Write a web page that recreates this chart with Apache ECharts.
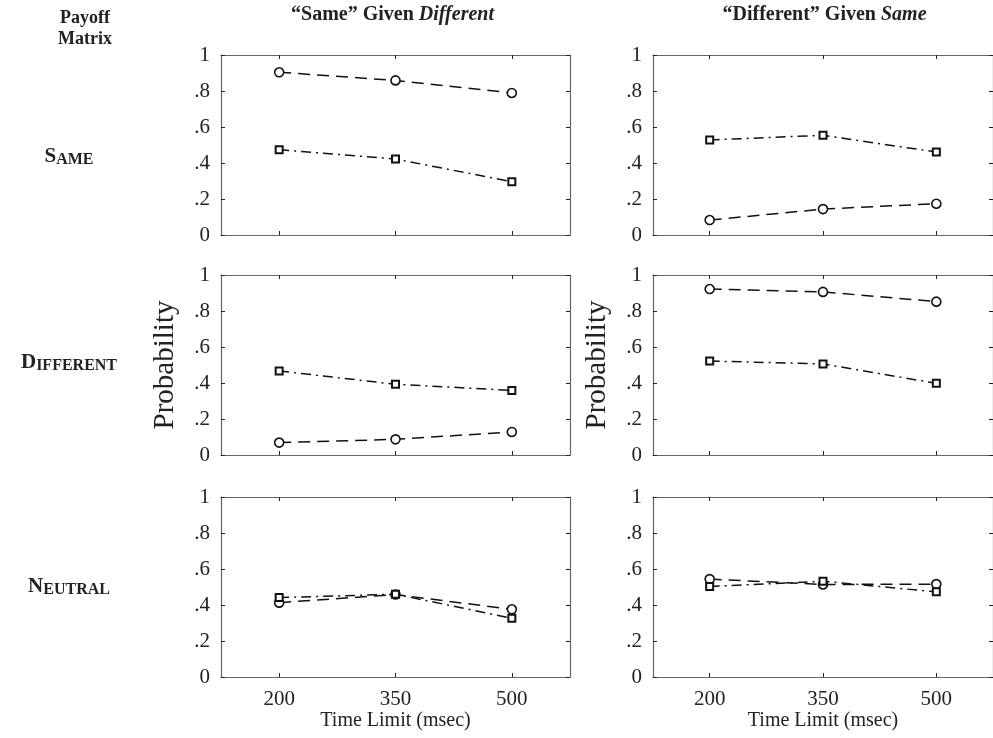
<!DOCTYPE html>
<html>
<head>
<meta charset="utf-8">
<script src="https://cdn.jsdelivr.net/npm/echarts@6/dist/echarts.min.js"></script>
<style>
html,body{margin:0;padding:0;background:#fff;}
#c{width:993px;height:738px;}
</style>
</head>
<body>
<div id="c"></div>
<script>
// ---- data ----
const timeLimits = [200, 350, 500];
const xTicks = [200, 350, 500];
const yTicks = [0, 0.2, 0.4, 0.6, 0.8, 1];
const columnTitles = ['“Same” Given ', '“Different” Given '];
const columnTitlesItalic = ['Different', 'Same'];
const rowLabels = [['S', 'AME'], ['D', 'IFFERENT'], ['N', 'EUTRAL']];

// circles (dashed) and squares (dash-dot), per panel
const sameGivenDiff_circle_SAME = [0.904, 0.859, 0.789];
const sameGivenDiff_square_SAME = [0.474, 0.422, 0.296];
const diffGivenSame_circle_SAME = [0.083, 0.144, 0.174];
const diffGivenSame_square_SAME = [0.528, 0.554, 0.461];

const sameGivenDiff_circle_DIFF = [0.069, 0.087, 0.128];
const sameGivenDiff_square_DIFF = [0.467, 0.393, 0.359];
const diffGivenSame_circle_DIFF = [0.922, 0.906, 0.852];
const diffGivenSame_square_DIFF = [0.522, 0.506, 0.398];

const sameGivenDiff_circle_NEUT = [0.413, 0.458, 0.376];
const sameGivenDiff_square_NEUT = [0.441, 0.460, 0.326];
const diffGivenSame_circle_NEUT = [0.544, 0.514, 0.516];
const diffGivenSame_square_NEUT = [0.503, 0.532, 0.473];

const panels = [
  [sameGivenDiff_circle_SAME, sameGivenDiff_square_SAME],
  [diffGivenSame_circle_SAME, diffGivenSame_square_SAME],
  [sameGivenDiff_circle_DIFF, sameGivenDiff_square_DIFF],
  [diffGivenSame_circle_DIFF, diffGivenSame_square_DIFF],
  [sameGivenDiff_circle_NEUT, sameGivenDiff_square_NEUT],
  [diffGivenSame_circle_NEUT, diffGivenSame_square_NEUT]
];

// ---- layout ----
const FONT = '"Liberation Serif","Times New Roman",serif';
const colLeft = [221, 653];
const panelW = 349;
const rowTop = [55, 275, 497];
const panelH = 180;
const axisColor = '#666';

const grids = [], xAxes = [], yAxes = [], series = [];
let gi = 0;
for (let r = 0; r < 3; r++) {
  for (let c = 0; c < 2; c++) {
    grids.push({left: colLeft[c], top: rowTop[r], width: panelW, height: panelH});
    const isBottom = r === 2;
    const xBase = {
      type: 'value', gridIndex: gi, min: 125, max: 575,
      splitLine: {show: false},
      axisLine: {show: true, onZero: false, lineStyle: {color: axisColor, width: 1.2}},
      axisTick: {show: true, inside: true, length: 4, customValues: xTicks, lineStyle: {color: '#222', width: 1}}
    };
    xAxes.push(Object.assign({}, xBase, {
      position: 'bottom',
      axisLabel: {show: isBottom, customValues: xTicks, margin: 12, fontFamily: FONT, fontSize: 21, color: '#222'},
      name: isBottom ? 'Time Limit (msec)' : '',
      nameLocation: 'middle', nameGap: 34,
      nameTextStyle: {fontFamily: FONT, fontSize: 20, color: '#222', verticalAlign: 'top'}
    }));
    xAxes.push(Object.assign({}, xBase, {position: 'top', axisLabel: {show: false}}));
    const yBase = {
      type: 'value', gridIndex: gi, min: 0, max: 1, interval: 0.2,
      splitLine: {show: false},
      axisLine: {show: true, onZero: false, lineStyle: {color: axisColor, width: 1.2}},
      axisTick: {show: true, inside: true, length: 4, lineStyle: {color: '#222', width: 1}}
    };
    yAxes.push(Object.assign({}, yBase, {
      position: 'left',
      axisLabel: {
        show: true, margin: 11, fontFamily: FONT, fontSize: 21, color: '#222',
        formatter: v => (Math.abs(v) < 1e-9 ? '0' : (Math.abs(v - 1) < 1e-9 ? '1' : ('.' + Math.round(v * 10))))
      }
    }));
    yAxes.push(Object.assign({}, yBase, {position: 'right', axisLabel: {show: false}}));
    const [circ, sq] = panels[gi];
    series.push({
      type: 'line', xAxisIndex: gi * 2, yAxisIndex: gi * 2,
      data: timeLimits.map((t, i) => [t, circ[i]]),
      symbol: 'circle', symbolSize: 9,
      itemStyle: {color: '#fff', borderColor: '#111', borderWidth: 1.6},
      lineStyle: {color: '#111', width: 1.5, type: [12, 7]},
      silent: true, animation: false, z: 3
    });
    series.push({
      type: 'line', xAxisIndex: gi * 2, yAxisIndex: gi * 2,
      data: timeLimits.map((t, i) => [t, sq[i]]),
      symbol: 'rect', symbolSize: 7,
      itemStyle: {color: '#fff', borderColor: '#111', borderWidth: 2},
      lineStyle: {color: '#111', width: 1.5, type: [10, 5, 2, 5]},
      silent: true, animation: false, z: 3
    });
    gi++;
  }
}

// ---- texts ----
const graphics = [];
for (let c = 0; c < 2; c++) {
  graphics.push({
    type: 'text', x: colLeft[c] + panelW / 2 - 3, y: 15,
    style: {
      text: '{n|' + columnTitles[c] + '}{i|' + columnTitlesItalic[c] + '}',
      align: 'center', verticalAlign: 'middle',
      rich: {
        n: {fontFamily: FONT, fontSize: 20, fontWeight: 'bold', fill: '#222'},
        i: {fontFamily: FONT, fontSize: 20, fontWeight: 'bold', fontStyle: 'italic', fill: '#222'}
      }
    }
  });
  graphics.push({
    type: 'text', x: colLeft[c] - 56, y: rowTop[1] + panelH / 2, rotation: Math.PI / 2,
    style: {text: 'Probability', fontFamily: FONT, fontSize: 29, fill: '#222', align: 'center', verticalAlign: 'middle'}
  });
}
graphics.push({
  type: 'text', x: 85, y: 29,
  style: {text: 'Payoff\nMatrix', fontFamily: FONT, fontSize: 18, fontWeight: 'bold', fill: '#222',
          align: 'center', verticalAlign: 'middle', lineHeight: 21}
});
const rowLabelY = [157, 363, 587];
for (let r = 0; r < 3; r++) {
  graphics.push({
    type: 'text', x: 69, y: rowLabelY[r],
    style: {
      text: '{a|' + rowLabels[r][0] + '}{b|' + rowLabels[r][1] + '}',
      align: 'center', verticalAlign: 'middle',
      rich: {
        a: {fontFamily: FONT, fontSize: 21, fontWeight: 'bold', fill: '#222', verticalAlign: 'bottom'},
        b: {fontFamily: FONT, fontSize: 16, fontWeight: 'bold', fill: '#222', verticalAlign: 'bottom'}
      }
    }
  });
}

const chart = echarts.init(document.getElementById('c'), null, {renderer: 'canvas'});
chart.setOption({
  backgroundColor: '#fff',
  animation: false,
  grid: grids,
  xAxis: xAxes,
  yAxis: yAxes,
  series: series,
  graphic: graphics
});
</script>
</body>
</html>
